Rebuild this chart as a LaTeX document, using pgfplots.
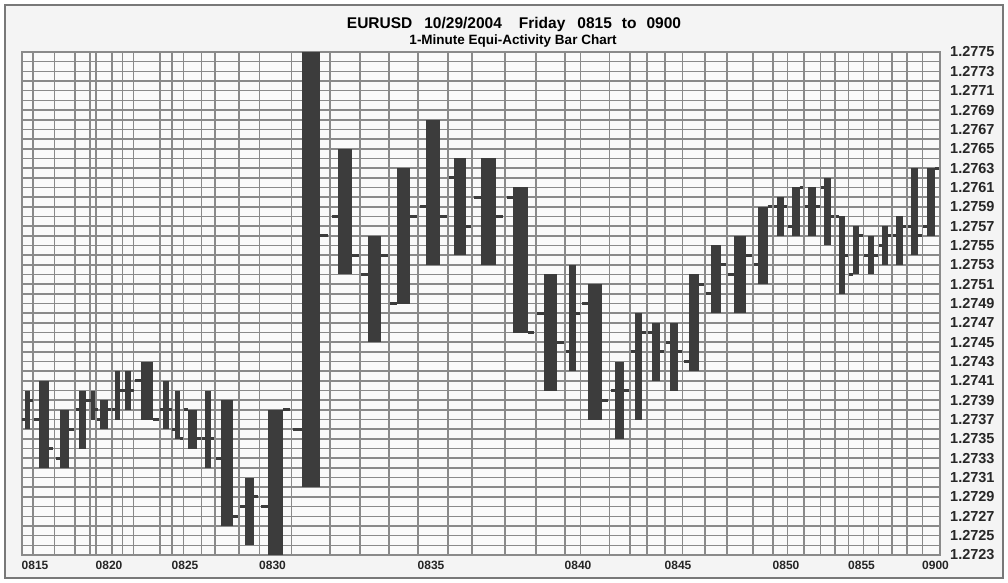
\documentclass[border=0pt]{standalone}
\usepackage{fontspec}
\setmainfont{Liberation Sans}
\usepackage{pgfplots}
\usepackage{pgfplotstable}
\pgfplotsset{compat=1.18}

\definecolor{barc}{RGB}{60,60,60}
\definecolor{gridc}{RGB}{138,138,138}
\definecolor{framec}{RGB}{120,120,120}
\definecolor{bgc}{RGB}{244,244,244}
\definecolor{plotbg}{RGB}{250,250,250}

% one row per minute: column edges (px), open high low close
\pgfplotstableread{
xl    xr    o      h      l      c
22    33    1.2737 1.2740 1.2736 1.2739
33    54.5  1.2737 1.2741 1.2732 1.2734
54.5  75    1.2733 1.2738 1.2732 1.2736
75    90    1.2738 1.2740 1.2734 1.2739
90    96    1.2739 1.2740 1.2737 1.2738
96    112   1.2737 1.2739 1.2736 1.2738
112   122.5 1.2738 1.2742 1.2737 1.2740
122.5 133.5 1.2740 1.2742 1.2738 1.2740
133.5 160   1.2741 1.2743 1.2737 1.2737
160   172   1.2738 1.2741 1.2736 1.2738
172   183.5 1.2736 1.2740 1.2735 1.2735
183.5 201.5 1.2738 1.2738 1.2734 1.2735
201.5 215   1.2735 1.2740 1.2732 1.2735
215   239   1.2733 1.2739 1.2726 1.2727
239   259.5 1.2728 1.2731 1.2724 1.2729
259.5 291.5 1.2728 1.2738 1.2723 1.2738
291.5 330   1.2736 1.2775 1.2730 1.2756
330   360   1.2758 1.2765 1.2752 1.2754
360   389   1.2752 1.2756 1.2745 1.2754
389   418   1.2749 1.2763 1.2749 1.2758
418   448   1.2759 1.2768 1.2753 1.2758
448   472   1.2762 1.2764 1.2754 1.2757
472   505   1.2760 1.2764 1.2753 1.2758
505   536   1.2760 1.2761 1.2746 1.2746
536   565   1.2748 1.2752 1.2740 1.2745
565   580.5 1.2744 1.2753 1.2742 1.2748
580.5 609.5 1.2749 1.2751 1.2737 1.2739
609.5 630   1.2740 1.2743 1.2735 1.2740
630   647   1.2744 1.2748 1.2737 1.2746
647   665   1.2746 1.2747 1.2741 1.2744
665   682.5 1.2745 1.2747 1.2740 1.2744
682.5 705   1.2743 1.2752 1.2742 1.2751
705   727   1.2750 1.2755 1.2748 1.2753
727   753   1.2752 1.2756 1.2748 1.2754
753   773   1.2753 1.2759 1.2751 1.2759
773   787.5 1.2759 1.2760 1.2756 1.2759
787.5 804   1.2757 1.2761 1.2756 1.2761
804   820.5 1.2759 1.2761 1.2756 1.2759
820.5 835   1.2761 1.2762 1.2755 1.2758
835   848.5 1.2758 1.2758 1.2750 1.2754
848.5 863.5 1.2752 1.2757 1.2752 1.2756
863.5 878.5 1.2754 1.2756 1.2752 1.2754
878.5 892   1.2755 1.2757 1.2753 1.2756
892   907   1.2756 1.2758 1.2753 1.2757
907   922.5 1.2757 1.2763 1.2754 1.2756
922.5 939.5 1.2757 1.2763 1.2756 1.2763
}\bars

\begin{document}
\begin{tikzpicture}
\path (-22pt,-27pt) rectangle (986pt,555pt);
\fill[bgc] (-17pt,-23pt) rectangle (981pt,550pt);
\draw[framec, line width=2.5pt] (-17pt,-23pt) rectangle (981pt,550pt);
\begin{axis}[
    scale only axis,
    width=918pt, height=503pt,
    xmin=22, xmax=940,
    ymin=1.2723, ymax=1.2775,
    axis background/.style={fill=plotbg},
    axis line style={gridc, line width=1.6pt},
    grid=both,
    major grid style={gridc, line width=1.6pt},
    minor grid style={gridc, line width=1.6pt},
    major tick length=0pt, minor tick length=0pt,
    xtick={22,96,172,259.5,418,565,665,773,848.5,922.5},
    xticklabels={0815,0820,0825,0830,0835,0840,0845,0850,0855,0900},
    minor xtick={22,33,54.5,75,90,96,112,122.5,133.5,160,172,183.5,201.5,215,239,
      259.5,291.5,330,360,389,418,448,472,505,536,565,580.5,609.5,630,647,665,
      682.5,705,727,753,773,787.5,804,820.5,835,848.5,863.5,878.5,892,907,922.5},
    ytick={1.2723,1.2725,1.2727,1.2729,1.2731,1.2733,1.2735,1.2737,1.2739,
      1.2741,1.2743,1.2745,1.2747,1.2749,1.2751,1.2753,1.2755,1.2757,1.2759,
      1.2761,1.2763,1.2765,1.2767,1.2769,1.2771,1.2773,1.2775},
    yticklabels={1.2723,1.2725,1.2727,1.2729,1.2731,1.2733,1.2735,1.2737,1.2739,
      1.2741,1.2743,1.2745,1.2747,1.2749,1.2751,1.2753,1.2755,1.2757,1.2759,
      1.2761,1.2763,1.2765,1.2767,1.2769,1.2771,1.2773,1.2775},
    minor ytick={1.2724,1.2726,1.2728,1.2730,1.2732,1.2734,1.2736,1.2738,1.2740,
      1.2742,1.2744,1.2746,1.2748,1.2750,1.2752,1.2754,1.2756,1.2758,1.2760,
      1.2762,1.2764,1.2766,1.2768,1.2770,1.2772,1.2774},
    yticklabel pos=right,
    /pgf/number format/assume math mode=true,
    xticklabel style={font=\bfseries\fontsize{12}{12}\selectfont, text=black!85,
      anchor=north west, inner sep=0pt, yshift=-6pt, xshift=-0.5pt},
    yticklabel style={font=\bfseries\fontsize{14.5}{15}\selectfont, text=black!85,
      anchor=west, inner sep=0pt, xshift=10pt},
]
\pgfplotstablegetrowsof{\bars}
\pgfmathtruncatemacro\nlast{\pgfplotsretval-1}
\pgfplotsforeachungrouped \k in {0,...,\nlast}{%
  \pgfplotstablegetelem{\k}{xl}\of\bars \let\bXl\pgfplotsretval
  \pgfplotstablegetelem{\k}{xr}\of\bars \let\bXr\pgfplotsretval
  \pgfplotstablegetelem{\k}{o}\of\bars \let\bO\pgfplotsretval
  \pgfplotstablegetelem{\k}{h}\of\bars \let\bH\pgfplotsretval
  \pgfplotstablegetelem{\k}{l}\of\bars \let\bL\pgfplotsretval
  \pgfplotstablegetelem{\k}{c}\of\bars \let\bC\pgfplotsretval
  \pgfmathsetmacro\bW{\bXr-\bXl}
  \pgfmathsetmacro\bM{(\bXl+\bXr)/2}
  \pgfmathsetmacro\bB{max(0.46*\bW,3.5)/2}
  \pgfmathsetmacro\bT{max(0.22*\bW,3)}
  \pgfmathsetmacro\xa{\bM-\bB}
  \pgfmathsetmacro\xb{\bM+\bB}
  \pgfmathsetmacro\xo{\xa-\bT}
  \pgfmathsetmacro\xc{\xb+\bT}
  \edef\tmp{%
    \noexpand\addplot[fill=barc, draw=none] coordinates
      {(\xa,\bL) (\xb,\bL) (\xb,\bH) (\xa,\bH)};
    \noexpand\addplot[barc, line width=3pt] coordinates {(\xo,\bO) (\xa,\bO)};
    \noexpand\addplot[barc, line width=3pt] coordinates {(\xb,\bC) (\xc,\bC)};
  }\tmp
}
\end{axis}
\node[anchor=base, font=\bfseries\fontsize{15.5}{18}\selectfont] at (492pt,526pt)
  {EURUSD\hspace{12pt}10/29/2004\hspace{17pt}Friday\hspace{12pt}0815\hspace{10pt}to\hspace{10pt}0900};
\node[anchor=base, font=\bfseries\fontsize{13.5}{16}\selectfont] at (491pt,510pt)
  {1-Minute Equi-Activity Bar Chart};
\end{tikzpicture}
\end{document}
